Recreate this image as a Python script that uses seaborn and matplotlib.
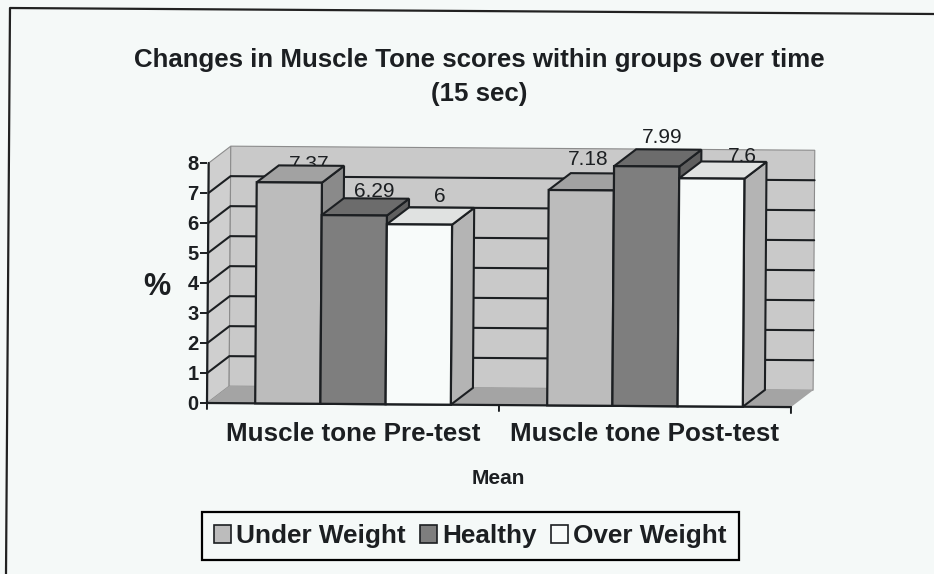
import matplotlib
matplotlib.use('Agg')
import matplotlib.pyplot as plt
from matplotlib.artist import Artist
from matplotlib.lines import Line2D
from matplotlib.transforms import Affine2D
import pandas as pd
import seaborn as sns

tests = ['Muscle tone Pre-test', 'Muscle tone Post-test']
groups = ['Under Weight', 'Healthy', 'Over Weight']
under_weight = [7.37, 7.18]
healthy = [6.29, 7.99]
over_weight = [6, 7.6]
label_text = ['7.37', '7.18', '6.29', '7.99', '6', '7.6']

# Pixel nudges for the data labels (same order as the bars)
label_nudge = [(21, 17), (8, 28), (21, 23), (17, 26), (22, 26), (32, 18)]

W, H = 934, 574
PAPER = '#f5f9f8'
BAR_COLORS = ['#bcbcbc', '#7e7e7e', '#f8fbfa']
SIDE_COLORS = ['#8a8a8a', '#5f5f5f', '#b4b4b4']
TOP_COLORS = ['#a2a2a2', '#6c6c6c', '#e0e2e1']
WALL = '#c9c9c9'
SIDE_WALL = '#cfcfcf'
FLOOR = '#a4a4a4'
INK = '#1c1f22'

sns.set_style('white')
plt.rcParams['font.family'] = ['Liberation Sans', 'DejaVu Sans']


def fx(px):
    return px / W


def fy(py):
    return 1 - py / H


df = pd.DataFrame({
    'test': tests * 3,
    'group': [g for g in groups for _ in tests],
    'value': under_weight + healthy + over_weight,
})

fig = plt.figure(figsize=(W / 100, H / 100), dpi=100, facecolor=PAPER)
ax = fig.add_axes([fx(207), fy(403), fx(791) - fx(207), fy(163) - fy(403)])
ax.patch.set_visible(False)

sns.barplot(data=df, x='test', y='value', hue='group', hue_order=groups,
            palette=BAR_COLORS, width=0.67, gap=0, saturation=1,
            edgecolor=INK, linewidth=1.6, ax=ax, zorder=5)
bars = [p for c in ax.containers for p in c]
ax.set_xlim(-0.5, 1.5)
ax.set_ylim(0, 8)

# depth of the fake 3D box, px turned into data units
dx = 22 / 292
dy = 17 / 30
x0, x1 = ax.get_xlim()

ax.fill([x0, x0 + dx, x1 + dx, x1], [0, dy, dy, 0], color=FLOOR, lw=0, zorder=1, clip_on=False)
ax.fill([x0, x0 + dx, x0 + dx, x0], [0, dy, 8 + dy, 8], facecolor=SIDE_WALL, edgecolor='#8c8c8c',
        lw=0.8, zorder=0.5, clip_on=False)
ax.fill([x0 + dx, x1 + dx, x1 + dx, x0 + dx], [dy, dy, 8 + dy, 8 + dy], facecolor=WALL,
        edgecolor='#8c8c8c', lw=0.8, zorder=0.5, clip_on=False)
for y in range(1, 8):
    ax.plot([x0, x0 + dx, x1 + dx], [y, y + dy, y + dy], color=INK, lw=1.5, zorder=2,
            clip_on=False, solid_joinstyle='miter')

# side and top faces, drawn left to right so each bar covers the one before it
n = len(tests)
order = sorted(range(len(bars)), key=lambda i: bars[i].get_x())
for z, i in enumerate(order):
    bar = bars[i]
    left, w, h = bar.get_x(), bar.get_width(), bar.get_height()
    right = left + w
    g = i // n
    zo = 5 + z
    ax.fill([right, right + dx, right + dx, right], [0, dy, h + dy, h], facecolor=SIDE_COLORS[g],
            edgecolor=INK, lw=1.5, zorder=zo, clip_on=False)
    ax.fill([left, left + dx, right + dx, right], [h, h + dy, h + dy, h], facecolor=TOP_COLORS[g],
            edgecolor=INK, lw=1.5, zorder=zo, clip_on=False)
    bar.set_zorder(zo + 0.5)
    bar.set_clip_on(False)

    # labels sit behind the bars, the top faces clip 7.37 and 7.6 as in the scan
    nudge_x, nudge_y = label_nudge[i]
    ax.annotate(label_text[i], (left + w / 2, h), xytext=(nudge_x * 0.72, nudge_y * 0.72),
                textcoords='offset points', ha='center', va='center', fontsize=15,
                color=INK, zorder=3, annotation_clip=False)

# axis lines as plain lines so they can follow the scan's tilt
for side in ax.spines:
    ax.spines[side].set_visible(False)
ax.plot([x0, x0], [0, 8], color=INK, lw=1.6, zorder=4, clip_on=False)
ax.plot([x0, x1], [0, 0], color=INK, lw=1.6, zorder=4, clip_on=False)
for v in [x0, 0.5, x1]:
    ax.plot([v, v], [0, -0.2], color=INK, lw=1.4, zorder=4, clip_on=False)

ax.set_yticks(range(0, 9))
ax.tick_params(axis='y', left=True, length=5, width=1.4, color=INK, labelsize=14.5,
               labelcolor=INK, pad=1)
for t in ax.get_yticklabels():
    t.set_fontweight('bold')
ax.tick_params(axis='x', bottom=False, labelsize=18.7, labelcolor=INK, pad=10)
for t in ax.get_xticklabels():
    t.set_fontweight('bold')
ax.set_xlabel('')
ax.set_ylabel('')

# the page was scanned slightly rotated
tilt = Affine2D().rotate_deg_around(207, H - 403, -0.4)
for artist in list(ax.patches) + list(ax.lines):
    artist.set_transform(Artist.get_transform(artist) + tilt)

handles = ax.get_legend().legend_handles
ax.get_legend().remove()
leg = fig.legend(handles, groups, ncol=3, loc='center', bbox_to_anchor=(fx(470.5), fy(536)),
                 frameon=True, fancybox=False, framealpha=1, facecolor=PAPER, edgecolor='black',
                 prop={'weight': 'bold', 'size': 18.8}, handlelength=0.65, handleheight=0.65,
                 handletextpad=0.2, columnspacing=0.55, borderpad=0.45, labelcolor=INK)
leg.get_frame().set_linewidth(1.6)
for h in leg.legend_handles:
    h.set_linewidth(1.2)

fig.text(fx(479), fy(59.5), 'Changes in Muscle Tone scores within groups over time', ha='center',
         va='center', fontsize=18.6, fontweight='bold', color=INK)
fig.text(fx(479), fy(93.5), '(15 sec)', ha='center', va='center', fontsize=18.6,
         fontweight='bold', color=INK)
fig.text(fx(157), fy(287), '%', ha='center', va='center', fontsize=22, fontweight='bold', color=INK)
fig.text(fx(498), fy(478), 'Mean', ha='center', va='center', fontsize=15, fontweight='bold',
         color=INK)

# the scanned page border
fig.add_artist(Line2D([fx(6), fx(10), fx(934)], [fy(574), fy(8), fy(14)], color='#222222', lw=1.6))

fig.savefig('out.png', dpi=100, facecolor=fig.get_facecolor())
